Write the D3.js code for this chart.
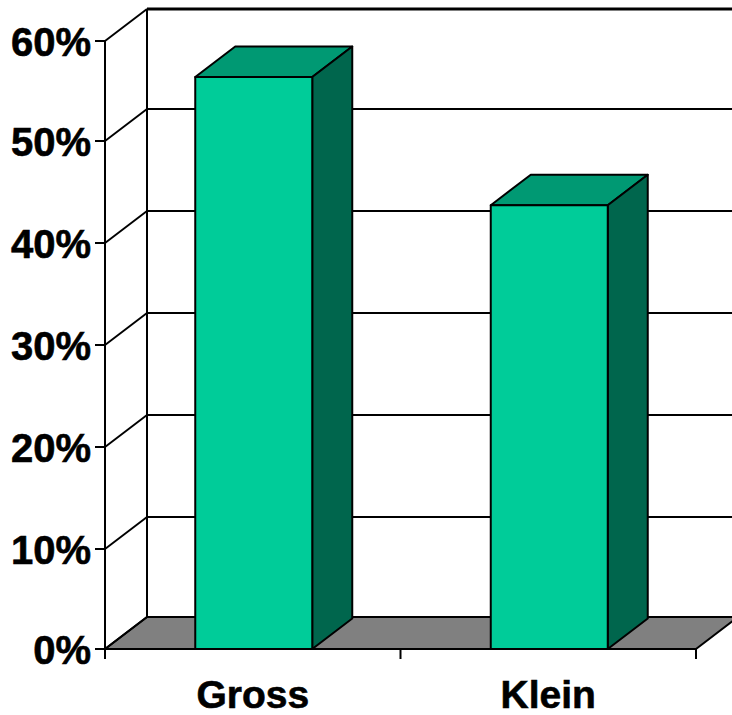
<!DOCTYPE html>
<html><head><meta charset="utf-8">
<script src="https://cdnjs.cloudflare.com/ajax/libs/d3/7.8.5/d3.min.js"></script>
<style>html,body{margin:0;padding:0;background:#fff;overflow:hidden}svg{display:block}
text{font-family:"Liberation Sans",Arial,sans-serif;font-weight:700;fill:#000;stroke:#000;stroke-width:.6px}</style></head>
<body><svg id="c" width="732" height="715"></svg>
<script>
const categories = ["Gross", "Klein"];
const values = [56.4, 43.7];
const yTicks = [0, 10, 20, 30, 40, 50, 60];

const svg = d3.select("#c");
const W = 732, H = 715;
const frontLeft = 105, frontRight = 696;
const depthX = 42, depthY = 32, barDepthX = 40, barDepthY = 30.5;
const x = d3.scaleBand().domain(categories).range([frontLeft, frontRight]).paddingInner(0).paddingOuter(0);
const y = d3.scaleLinear().domain([0, 10, 50, 60]).range([649, 549, 141, 41]);
const frontBase = y(0);
const barW = 117, barShift = 1;
const line = (a, b, c, d, w = 2) => svg.append("line").attr("x1", a).attr("y1", b).attr("x2", c).attr("y2", d)
  .attr("stroke", "#000").attr("stroke-width", w);
const poly = (pts, fill) => svg.append("polygon").attr("points", pts.map(p => p.join(",")).join(" "))
  .attr("fill", fill).attr("stroke", "#000").attr("stroke-width", 2).attr("stroke-linejoin", "round");

// floor
poly([[frontLeft, frontBase], [frontLeft + depthX, frontBase - depthY], [frontRight + depthX, frontBase - depthY], [frontRight, frontBase]], "#808080");

// walls and gridlines
yTicks.forEach(t => {
  const yy = y(t);
  line(frontLeft, yy, frontLeft + depthX, yy - depthY);
  line(frontLeft + depthX, yy - depthY, W + 10, yy - depthY, t === 60 ? 3 : 2);
  line(frontLeft - 10, yy, frontLeft, yy);
  svg.append("text").attr("x", 91).attr("y", yy + 15).attr("text-anchor", "end")
    .attr("font-size", 40).text(t + "%");
});
line(frontLeft + depthX, y(60) - depthY, frontLeft + depthX, frontBase - depthY);
line(frontLeft, y(60), frontLeft, frontBase + 10);
line(frontLeft, frontBase, frontRight, frontBase);

// x ticks
[frontLeft, x("Klein"), frontRight].forEach(v => line(v, frontBase, v, frontBase + 10));

// bars
categories.forEach((c, i) => {
  const l = x(c) + (x.bandwidth() - barW) / 2 + barShift, r = l + barW, t = y(values[i]), b = y(0);
  poly([[l, t], [l + barDepthX, t - barDepthY], [r + barDepthX, t - barDepthY], [r, t]], "#009973");
  poly([[r, t], [r + barDepthX, t - barDepthY], [r + barDepthX, b - barDepthY], [r, b]], "#00664d");
  poly([[l, t], [r, t], [r, b], [l, b]], "#00cc99");
  svg.append("text").attr("x", x(c) + x.bandwidth() / 2).attr("y", 708).attr("text-anchor", "middle")
    .attr("font-size", 39).text(c);
});
</script></body></html>
